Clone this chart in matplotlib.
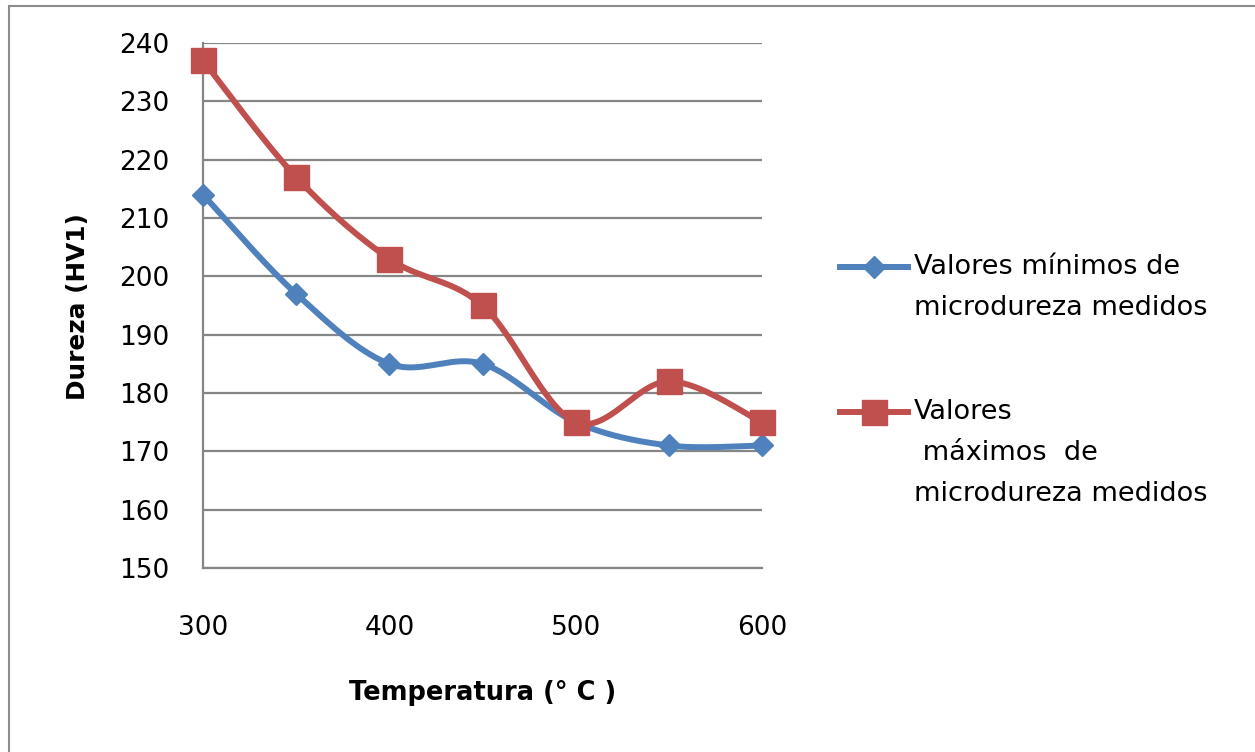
import numpy as np
import matplotlib
matplotlib.use("Agg")
import matplotlib.pyplot as plt
from matplotlib.patches import Rectangle
from matplotlib.lines import Line2D

# Temperatura de revenido (°C) y microdureza HV1
temperatura = [300, 350, 400, 450, 500, 550, 600]
dureza_min = [214, 197, 185, 185, 175, 171, 171]
dureza_max = [237, 217, 203, 195, 175, 182, 175]

etiquetas = ["Valores mínimos de\nmicrodureza medidos",
             "Valores\n máximos  de\nmicrodureza medidos"]
y_ticks = list(range(150, 241, 10))
x_ticks = [300, 400, 500, 600]

azul = "#4F81BD"
rojo = "#C0504D"
gris = "#868686"

plt.rcParams["font.family"] = ["DejaVu Sans"]


def suavizar(x, y, n=40):
    # curva tipo Excel: bezier cubica con tangentes de Catmull-Rom
    p = np.column_stack([x, y]).astype(float)
    p = np.vstack([p[0], p, p[-1]])
    t = np.linspace(0, 1, n)[:, None]
    out = []
    for i in range(1, len(p) - 2):
        p0, p1, p2, p3 = p[i - 1], p[i], p[i + 1], p[i + 2]
        c1 = p1 + (p2 - p0) / 6
        c2 = p2 - (p3 - p1) / 6
        seg = ((1 - t) ** 3) * p1 + 3 * ((1 - t) ** 2) * t * c1 \
            + 3 * (1 - t) * t ** 2 * c2 + t ** 3 * p2
        out.append(seg if i == 1 else seg[1:])
    out = np.vstack(out)
    return out[:, 0], out[:, 1]


fig = plt.figure(figsize=(12.55, 7.52), dpi=100)
ax = fig.add_axes([203 / 1255, 1 - 568 / 752, 559 / 1255, 525 / 752])

series = [(dureza_min, azul, "D", 11), (dureza_max, rojo, "s", 18)]
for vals, color, mk, ms in series:
    xs, ys = suavizar(temperatura, vals)
    ax.plot(xs, ys, color=color, lw=4.3, solid_capstyle="round", zorder=3)
    ax.plot(temperatura, vals, ls="none", marker=mk, ms=ms,
            color=color, zorder=4, clip_on=False)

ax.set_xlim(300, 600)
ax.set_ylim(150, 240)
ax.set_xticks(x_ticks)
ax.set_yticks(y_ticks)
ax.yaxis.grid(True, color=gris, lw=1.6)
ax.set_axisbelow(True)
for s in ["top", "right"]:
    ax.spines[s].set_visible(False)
for s in ["left", "bottom"]:
    ax.spines[s].set_color(gris)
    ax.spines[s].set_linewidth(1.6)
ax.tick_params(axis="both", length=0, labelsize=19, colors="black")
ax.tick_params(axis="y", pad=24)
ax.tick_params(axis="x", pad=34)

fig.text(483 / 1255, 1 - 693 / 752, "Temperatura (° C )", ha="center",
         va="center", fontsize=18.5, fontweight="bold")
fig.text(78 / 1255, 1 - 307 / 752, "Dureza (HV1)", ha="center",
         va="center", rotation=90, fontsize=17.8, fontweight="bold")

# leyenda a la derecha
leyenda_y = [267, 412]
for (vals, color, mk, ms), txt, y0 in zip(series, etiquetas, leyenda_y):
    yf = 1 - y0 / 752
    fig.add_artist(Line2D([840 / 1255, 908 / 1255], [yf, yf], color=color,
                          lw=4.3, marker=None))
    fig.add_artist(Line2D([874 / 1255], [yf], color=color, ls="none",
                          marker=mk, ms=ms))
    for k, linea in enumerate(txt.split("\n")):
        fig.text(914 / 1255, 1 - (y0 + 41 * k) / 752, linea, ha="left",
                 va="center", fontsize=19.5)

# marco exterior del grafico
fig.add_artist(Rectangle((9 / 1255, -0.1), 1.2, 1.1 - 6 / 752,
                         transform=fig.transFigure, fill=False,
                         edgecolor="#8c8c8c", lw=1.5))

fig.savefig("out.png", dpi=100)
